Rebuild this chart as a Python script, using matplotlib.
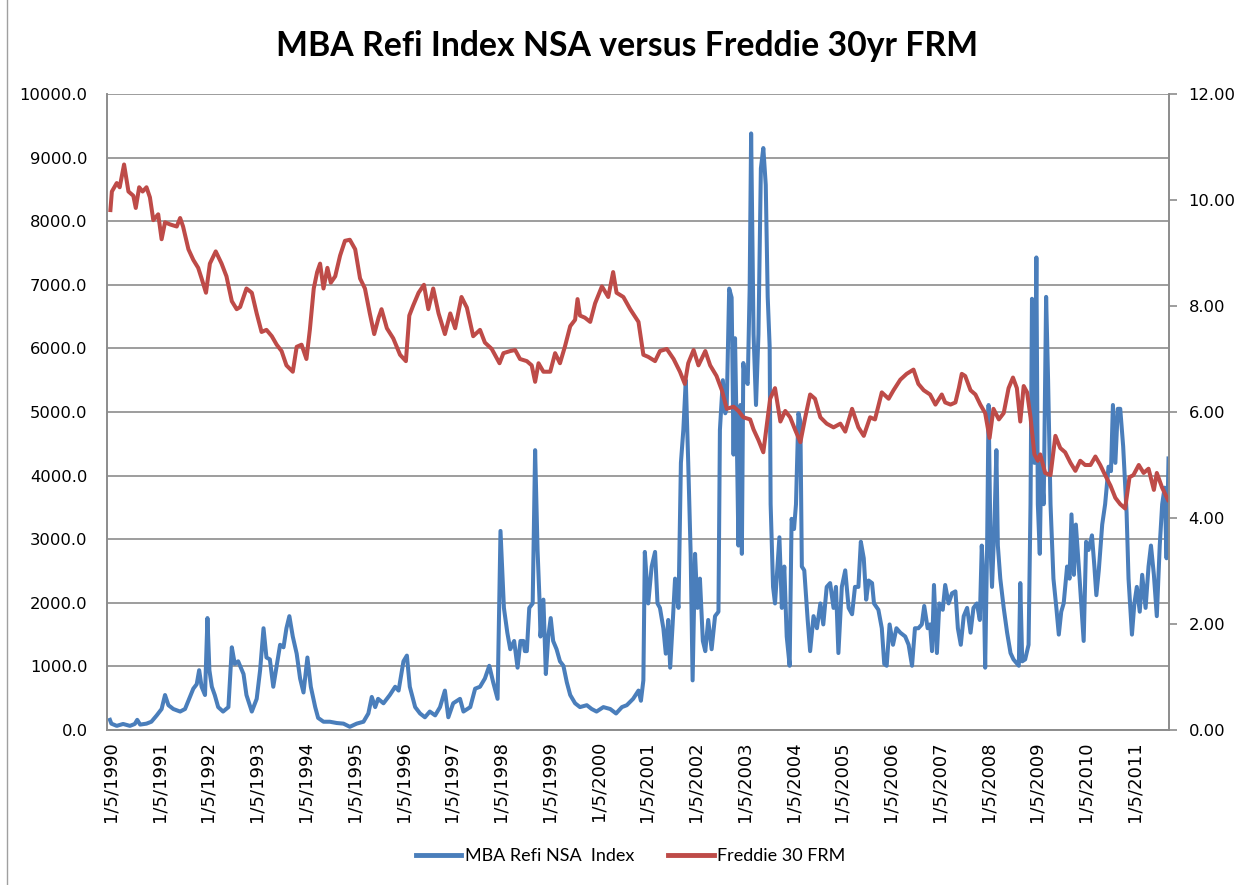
import matplotlib.pyplot as plt
from matplotlib.lines import Line2D

# MBA Refi NSA Index (weekly), time in fractional years
blue_t = [1990.00, 1990.03, 1990.14, 1990.27, 1990.41, 1990.51, 1990.56, 1990.62, 1990.75, 1990.85,
          1990.96, 1991.06, 1991.13, 1991.20, 1991.30, 1991.44, 1991.54, 1991.61, 1991.71, 1991.78,
          1991.83, 1991.88, 1991.95, 1992.00, 1992.04, 1992.09, 1992.15, 1992.22, 1992.32, 1992.43,
          1992.50, 1992.56, 1992.63, 1992.74, 1992.80, 1992.91, 1993.01, 1993.08, 1993.15, 1993.21,
          1993.28, 1993.35, 1993.42, 1993.49, 1993.56, 1993.62, 1993.68, 1993.75, 1993.83, 1993.90,
          1993.97, 1994.05, 1994.12, 1994.21, 1994.27, 1994.38, 1994.51, 1994.65, 1994.79, 1994.92,
          1995.06, 1995.20, 1995.30, 1995.37, 1995.44, 1995.50, 1995.61, 1995.74, 1995.85, 1995.92,
          1996.02, 1996.09, 1996.15, 1996.26, 1996.36, 1996.46, 1996.56, 1996.67, 1996.77, 1996.87,
          1996.94, 1997.04, 1997.18, 1997.25, 1997.39, 1997.49, 1997.59, 1997.69, 1997.78, 1997.86,
          1997.95, 1998.01, 1998.08, 1998.15, 1998.21, 1998.29, 1998.36, 1998.42, 1998.48, 1998.51,
          1998.55, 1998.60, 1998.67, 1998.72, 1998.77, 1998.81, 1998.83, 1998.89, 1998.94, 1998.99,
          1999.04, 1999.09, 1999.16, 1999.23, 1999.30, 1999.37, 1999.44, 1999.54, 1999.64, 1999.78,
          1999.88, 1999.98, 2000.12, 2000.26, 2000.38, 2000.50, 2000.60, 2000.73, 2000.84, 2000.89,
          2000.94, 2000.97, 2001.04, 2001.11, 2001.18, 2001.23, 2001.28, 2001.35, 2001.40, 2001.45,
          2001.49, 2001.54, 2001.59, 2001.66, 2001.71, 2001.76, 2001.81, 2001.86, 2001.91, 2001.95,
          2002.00, 2002.05, 2002.10, 2002.16, 2002.21, 2002.27, 2002.34, 2002.41, 2002.48, 2002.51,
          2002.57, 2002.62, 2002.65, 2002.70, 2002.75, 2002.79, 2002.82, 2002.86, 2002.89, 2002.93,
          2002.96, 2002.99, 2003.03, 2003.08, 2003.12, 2003.15, 2003.20, 2003.25, 2003.30, 2003.35,
          2003.40, 2003.45, 2003.49, 2003.53, 2003.55, 2003.60, 2003.64, 2003.69, 2003.73, 2003.78,
          2003.83, 2003.88, 2003.94, 2003.98, 2004.03, 2004.07, 2004.12, 2004.16, 2004.19, 2004.24,
          2004.31, 2004.36, 2004.43, 2004.50, 2004.57, 2004.63, 2004.70, 2004.77, 2004.84, 2004.89,
          2004.94, 2005.01, 2005.08, 2005.15, 2005.22, 2005.28, 2005.35, 2005.40, 2005.46, 2005.51,
          2005.56, 2005.63, 2005.67, 2005.76, 2005.83, 2005.88, 2005.93, 2005.99, 2006.06, 2006.13,
          2006.21, 2006.31, 2006.38, 2006.45, 2006.51, 2006.58, 2006.65, 2006.70, 2006.77, 2006.82,
          2006.86, 2006.90, 2006.96, 2007.01, 2007.08, 2007.13, 2007.20, 2007.27, 2007.34, 2007.39,
          2007.45, 2007.51, 2007.58, 2007.65, 2007.71, 2007.78, 2007.84, 2007.88, 2007.92, 2007.95,
          2007.99, 2008.02, 2008.06, 2008.09, 2008.14, 2008.18, 2008.21, 2008.26, 2008.33, 2008.40,
          2008.47, 2008.53, 2008.64, 2008.67, 2008.71, 2008.77, 2008.84, 2008.88, 2008.91, 2008.96,
          2009.00, 2009.03, 2009.07, 2009.10, 2009.15, 2009.20, 2009.24, 2009.29, 2009.35, 2009.41,
          2009.46, 2009.51, 2009.56, 2009.63, 2009.68, 2009.72, 2009.77, 2009.81, 2009.87, 2009.92,
          2009.97, 2010.02, 2010.07, 2010.14, 2010.19, 2010.23, 2010.28, 2010.35, 2010.41, 2010.48,
          2010.53, 2010.57, 2010.62, 2010.67, 2010.72, 2010.78, 2010.85, 2010.89, 2010.96, 2011.01,
          2011.06, 2011.12, 2011.17, 2011.24, 2011.30, 2011.35, 2011.41, 2011.47, 2011.53, 2011.58,
          2011.63, 2011.67, 2011.71]
blue_v = [160, 100, 65, 95, 65, 95, 160, 85, 100, 130,
          230, 330, 550, 390, 330, 290, 330, 460, 650, 720,
          940, 680, 550, 1760, 940, 680, 550, 360, 290, 360,
          1300, 1040, 1080, 880, 550, 290, 490, 940, 1600, 1140,
          1110, 680, 1010, 1340, 1300, 1600, 1790, 1470, 1200, 810,
          590, 1140, 680, 360, 190, 130, 130, 110, 100, 50,
          100, 130, 260, 520, 360, 490, 420, 550, 680, 620,
          1080, 1170, 680, 360, 260, 200, 290, 230, 360, 620,
          200, 420, 490, 290, 360, 650, 680, 810, 1010, 750,
          490, 3130, 1920, 1530, 1270, 1400, 980, 1400, 1400, 1240,
          1240, 1920, 1990, 4400, 2830, 2050, 1470, 2050, 880, 1470,
          1760, 1400, 1270, 1080, 1010, 750, 550, 420, 360, 390,
          330, 290, 360, 330, 260, 360, 390, 490, 620, 460,
          780, 2800, 1990, 2570, 2800, 1990, 1920, 1600, 1200, 1730,
          980, 1660, 2380, 1920, 4200, 4720, 5500, 4200, 2770, 780,
          2770, 1920, 2380, 1400, 1240, 1730, 1270, 1790, 1860, 4720,
          5500, 4980, 5110, 6940, 6800, 4330, 6160, 4400, 2900, 5110,
          2770, 5770, 5510, 5440, 6940, 9380, 6220, 5110, 6220, 8830,
          9150, 8570, 6810, 6030, 3550, 2250, 1990, 2570, 3030, 1920,
          2570, 1470, 1010, 3320, 3160, 3550, 4980, 4850, 2570, 2510,
          1730, 1240, 1790, 1600, 1990, 1660, 2250, 2310, 1920, 2250,
          1210, 2250, 2510, 1920, 1820, 2250, 2250, 2960, 2700, 2050,
          2350, 2310, 1990, 1890, 1600, 1040, 1010, 1660, 1340, 1600,
          1530, 1470, 1340, 1010, 1600, 1600, 1660, 1950, 1600, 1660,
          1240, 2280, 1210, 1990, 1890, 2280, 1990, 2150, 2180, 1600,
          1340, 1790, 1920, 1530, 1920, 1990, 1730, 2900, 2310, 980,
          2900, 5110, 2900, 2250, 3230, 4400, 2900, 2380, 1920, 1530,
          1210, 1110, 1010, 2310, 1080, 1110, 1340, 3550, 6780, 4200,
          7430, 3550, 2770, 4200, 3550, 6810, 5510, 3550, 2380, 1920,
          1500, 1860, 1990, 2570, 2380, 3390, 2440, 3230, 2570, 1990,
          1400, 2960, 2830, 3060, 2570, 2120, 2510, 3230, 3550, 4140,
          4070, 5110, 4200, 5050, 5050, 4460, 3420, 2380, 1500, 1990,
          2250, 1860, 2440, 1920, 2570, 2900, 2440, 1790, 2900, 3550,
          3810, 2700, 4270]

# Freddie Mac 30yr FRM (%)
red_t = [1990.01, 1990.04, 1990.14, 1990.20, 1990.29, 1990.38, 1990.48, 1990.53, 1990.60, 1990.67,
         1990.75, 1990.82, 1990.89, 1990.99, 1991.06, 1991.13, 1991.23, 1991.37, 1991.44, 1991.50,
         1991.61, 1991.71, 1991.81, 1991.88, 1991.97, 1992.05, 1992.17, 1992.29, 1992.39, 1992.50,
         1992.60, 1992.67, 1992.80, 1992.91, 1993.01, 1993.11, 1993.21, 1993.32, 1993.42, 1993.52,
         1993.62, 1993.75, 1993.83, 1993.93, 1994.03, 1994.10, 1994.18, 1994.25, 1994.31, 1994.38,
         1994.46, 1994.53, 1994.62, 1994.72, 1994.82, 1994.92, 1995.03, 1995.13, 1995.23, 1995.33,
         1995.42, 1995.51, 1995.57, 1995.68, 1995.81, 1995.95, 1996.07, 1996.14, 1996.22, 1996.33,
         1996.44, 1996.53, 1996.63, 1996.74, 1996.87, 1996.98, 1997.08, 1997.21, 1997.32, 1997.45,
         1997.59, 1997.69, 1997.83, 1997.99, 1998.07, 1998.21, 1998.31, 1998.41, 1998.55, 1998.65,
         1998.72, 1998.79, 1998.89, 1999.03, 1999.13, 1999.23, 1999.33, 1999.44, 1999.54, 1999.59,
         1999.64, 1999.74, 1999.85, 1999.95, 2000.09, 2000.22, 2000.32, 2000.39, 2000.53, 2000.67,
         2000.84, 2000.94, 2001.04, 2001.18, 2001.28, 2001.42, 2001.56, 2001.69, 2001.79, 2001.86,
         2001.97, 2002.07, 2002.21, 2002.31, 2002.44, 2002.55, 2002.65, 2002.79, 2002.89, 2002.99,
         2003.13, 2003.20, 2003.30, 2003.40, 2003.54, 2003.64, 2003.75, 2003.85, 2003.95, 2004.05,
         2004.16, 2004.26, 2004.36, 2004.46, 2004.57, 2004.70, 2004.84, 2004.98, 2005.08, 2005.22,
         2005.35, 2005.46, 2005.59, 2005.69, 2005.83, 2005.97, 2006.07, 2006.21, 2006.34, 2006.48,
         2006.58, 2006.69, 2006.82, 2006.93, 2007.06, 2007.13, 2007.24, 2007.34, 2007.41, 2007.47,
         2007.54, 2007.65, 2007.75, 2007.85, 2007.95, 2008.04, 2008.12, 2008.23, 2008.33, 2008.43,
         2008.52, 2008.60, 2008.67, 2008.74, 2008.81, 2008.88, 2008.96, 2009.03, 2009.08, 2009.18,
         2009.29, 2009.39, 2009.49, 2009.59, 2009.70, 2009.80, 2009.90, 2010.00, 2010.11, 2010.21,
         2010.31, 2010.41, 2010.52, 2010.62, 2010.72, 2010.82, 2010.91, 2010.99, 2011.10, 2011.20,
         2011.30, 2011.41, 2011.47, 2011.58, 2011.70]
red_v = [9.81, 10.16, 10.32, 10.24, 10.67, 10.16, 10.08, 9.85, 10.24, 10.16,
         10.24, 10.05, 9.62, 9.73, 9.26, 9.58, 9.54, 9.50, 9.66, 9.50,
         9.07, 8.87, 8.72, 8.52, 8.25, 8.80, 9.03, 8.80, 8.56, 8.09,
         7.94, 7.98, 8.33, 8.25, 7.86, 7.51, 7.55, 7.43, 7.27, 7.15,
         6.88, 6.76, 7.23, 7.27, 7.00, 7.55, 8.33, 8.64, 8.80, 8.33,
         8.72, 8.44, 8.56, 8.95, 9.23, 9.25, 9.07, 8.52, 8.33, 7.86,
         7.47, 7.78, 7.94, 7.58, 7.39, 7.08, 6.96, 7.82, 8.01, 8.25,
         8.40, 7.94, 8.33, 7.86, 7.47, 7.86, 7.58, 8.17, 7.97, 7.43,
         7.55, 7.31, 7.19, 6.92, 7.11, 7.15, 7.17, 7.00, 6.96, 6.88,
         6.57, 6.92, 6.76, 6.76, 7.11, 6.92, 7.23, 7.62, 7.74, 8.13,
         7.82, 7.78, 7.70, 8.05, 8.37, 8.17, 8.64, 8.25, 8.17, 7.94,
         7.70, 7.08, 7.04, 6.96, 7.15, 7.19, 7.00, 6.76, 6.53, 6.92,
         7.17, 6.88, 7.15, 6.88, 6.68, 6.41, 6.06, 6.10, 6.02, 5.90,
         5.86, 5.67, 5.47, 5.24, 6.25, 6.45, 5.82, 6.02, 5.90, 5.67,
         5.43, 5.90, 6.33, 6.25, 5.90, 5.78, 5.71, 5.78, 5.63, 6.06,
         5.71, 5.55, 5.90, 5.86, 6.37, 6.25, 6.41, 6.61, 6.72, 6.80,
         6.53, 6.41, 6.33, 6.14, 6.33, 6.18, 6.14, 6.18, 6.45, 6.72,
         6.68, 6.41, 6.33, 6.14, 5.98, 5.51, 6.06, 5.86, 5.98, 6.45,
         6.65, 6.45, 5.82, 6.49, 6.37, 5.90, 5.20, 5.08, 5.20, 4.85,
         4.81, 5.55, 5.32, 5.24, 5.04, 4.89, 5.08, 5.00, 5.00, 5.16,
         5.00, 4.81, 4.61, 4.38, 4.26, 4.18, 4.77, 4.81, 5.00, 4.85,
         4.93, 4.53, 4.85, 4.57, 4.34]

years = list(range(1990, 2012))
BLUE = '#4a7ebb'
RED = '#be4b48'
GRID = '#8c8c8c'

fig = plt.figure(figsize=(12.49, 8.85), dpi=100)
ax = fig.add_axes([107/1249, 1-730/885, (1169-107)/1249, (730-94)/885])
ax2 = ax.twinx()

ax.plot(blue_t, blue_v, color=BLUE, lw=2.9, solid_joinstyle='round')
ax2.plot(red_t, red_v, color=RED, lw=2.9, solid_joinstyle='round')

ax.set_xlim(1989.94, 2011.72)
ax.set_ylim(0, 10000)
ax2.set_ylim(0, 12)

ax.set_yticks(range(0, 10001, 1000))
ax.set_yticklabels(['%.1f' % v for v in range(0, 10001, 1000)], fontsize=11.8, family='DejaVu Sans')
ax2.set_yticks(range(0, 13, 2))
ax2.set_yticklabels(['%.2f' % v for v in range(0, 13, 2)], fontsize=11.8, family='DejaVu Sans')
ax.set_xticks([y + 4/365 for y in years])
ax.set_xticklabels(['1/5/%d' % y for y in years], rotation=90, fontsize=13, family='DejaVu Sans')

ax.tick_params(axis='x', length=0, pad=8)
ax.tick_params(axis='y', length=0, pad=14)
ax2.tick_params(axis='y', length=6, width=1.2, color=GRID, pad=8)

ax.grid(axis='y', color=GRID, lw=1.2)
ax.set_axisbelow(True)
for a in (ax, ax2):
    a.spines['top'].set_visible(False)
    for s in ('left', 'right', 'bottom'):
        a.spines[s].set_color(GRID)
        a.spines[s].set_linewidth(1.2)

fig.text(0.502, 1-46/885, 'MBA Refi Index NSA versus Freddie 30yr FRM',
         ha='center', va='center', fontsize=24.3, fontweight='bold', family='Lato')

handles = [Line2D([], [], color=BLUE, lw=3.5), Line2D([], [], color=RED, lw=3.5)]
fig.legend(handles, ['MBA Refi NSA  Index', 'Freddie 30 FRM'], loc='center',
           bbox_to_anchor=(0.505, 1-856/885), ncol=2, frameon=False,
           handlelength=2.5, handletextpad=0.2, columnspacing=1.9,
           prop={'family': 'Lato', 'size': 13})

# chart area border on the left
fig.add_artist(Line2D([7/1249, 7/1249], [0, 1], transform=fig.transFigure, color='#a0a0a0', lw=1))

fig.savefig('out.png', dpi=100)
